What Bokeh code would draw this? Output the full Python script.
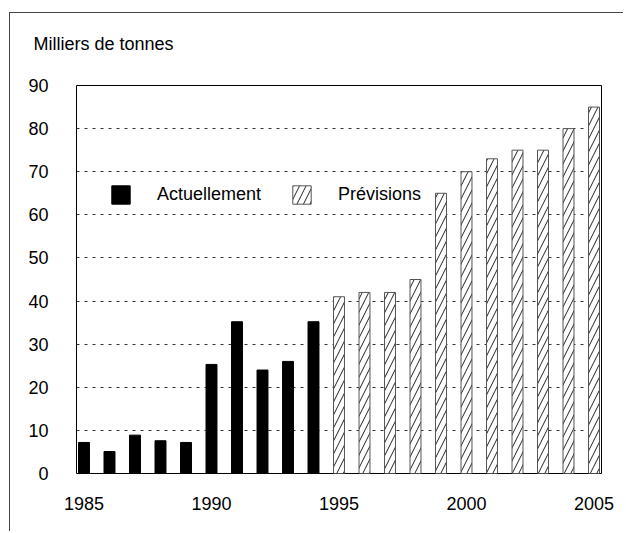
from bokeh.plotting import figure
from bokeh.models import FixedTicker, Range1d, Legend, LegendItem, ColumnDataSource, Title
from bokeh.embed import file_html
from bokeh.resources import INLINE

# ---- data ----
years_actual = [1985, 1986, 1987, 1988, 1989, 1990, 1991, 1992, 1993, 1994]
values_actual = [7.2, 5.1, 8.9, 7.6, 7.2, 25.3, 35.2, 24.0, 26.0, 35.2]
years_forecast = [1995, 1996, 1997, 1998, 1999, 2000, 2001, 2002, 2003, 2004, 2005]
values_forecast = [41, 42, 42, 45, 65, 70, 73, 75, 75, 80, 85]
y_ticks = [0, 10, 20, 30, 40, 50, 60, 70, 80, 90]
x_ticks = [1985, 1990, 1995, 2000, 2005]
y_title = "Milliers de tonnes"
series_names = ["Actuellement", "Prévisions"]

FONT = "Liberation Sans"
FS = "18px"

p = figure(width=614, height=519, output_backend="svg", toolbar_location=None,
           x_range=Range1d(1984.706, 2005.294), y_range=Range1d(0, 90),
           min_border_left=66, min_border_right=23, min_border_top=72, min_border_bottom=59,
           title=None)
p.styles = {"border-top": "1px solid #444444", "border-left": "1px solid #444444",
            "margin-top": "12px", "margin-left": "9px"}
p.background_fill_color = "white"
p.border_fill_color = "white"
p.outline_line_color = "black"
p.outline_line_width = 1

spacer = Title(text=" ", text_font_size="2px", standoff=26)
real_title = Title(text=y_title, align="left", offset=-43, standoff=4,
                   text_font=FONT, text_font_size=FS, text_font_style="normal",
                   text_color="black")
p.add_layout(spacer, "above")
p.add_layout(real_title, "above")

src_a = ColumnDataSource(dict(x=years_actual, top=values_actual))
src_f = ColumnDataSource(dict(x=years_forecast, top=values_forecast))

r_a = p.vbar(x="x", top="top", bottom=0, width=0.43, source=src_a,
             fill_color="black", line_color="black", line_width=1)
r_f = p.vbar(x="x", top="top", bottom=0, width=0.43, source=src_f,
             fill_color="white", line_color="#555555", line_width=1,
             hatch_pattern="/", hatch_scale=13, hatch_weight=1, hatch_color="#222222")

for ax in (p.xaxis, p.yaxis):
    ax.axis_line_color = None
    ax.major_tick_line_color = None
    ax.minor_tick_line_color = None
    ax.major_label_text_font = FONT
    ax.major_label_text_font_size = FS
    ax.major_label_text_color = "black"

p.xaxis.ticker = FixedTicker(ticks=x_ticks)
p.yaxis.ticker = FixedTicker(ticks=y_ticks)
p.xaxis.major_label_standoff = 17
p.yaxis.major_label_standoff = 22

p.xgrid.visible = False
p.ygrid.ticker = FixedTicker(ticks=y_ticks)
p.ygrid.grid_line_color = "#333333"
p.ygrid.grid_line_dash = "3 5"
p.ygrid.grid_line_width = 1

legend = Legend(items=[LegendItem(label=series_names[0], renderers=[r_a]),
                       LegendItem(label=series_names[1], renderers=[r_f])],
                location=(33, 267), orientation="horizontal",
                glyph_width=23, glyph_height=23, label_standoff=25, spacing=29,
                padding=0, margin=0, border_line_color=None, background_fill_alpha=0,
                label_text_font=FONT, label_text_font_size=FS, label_height=18,
                label_text_color="black")
p.add_layout(legend, "center")

open("out.html", "w").write(file_html(p, INLINE))
